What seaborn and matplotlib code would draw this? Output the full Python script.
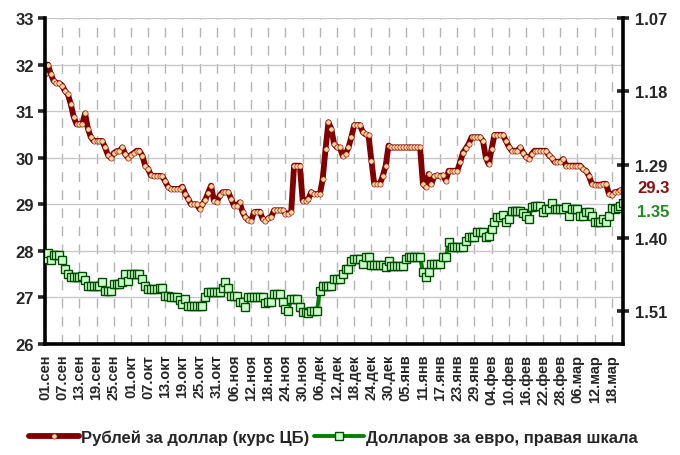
import pandas as pd
import matplotlib.pyplot as plt
import seaborn as sns

# Daily values, 01 Sep 2009 .. 22 Mar 2010
rub_per_usd = [
    31.80, 32.00, 31.80, 31.65, 31.60, 31.60, 31.55, 31.43, 31.36, 31.15,
    30.88, 30.72, 30.72, 30.72, 30.95, 30.62, 30.44, 30.36, 30.36, 30.36,
    30.36, 30.22, 30.05, 30.00, 30.10, 30.14, 30.14, 30.22, 30.08, 30.00,
    30.06, 30.10, 30.15, 30.15, 30.04, 29.83, 29.76, 29.62, 29.61, 29.61,
    29.61, 29.60, 29.49, 29.37, 29.33, 29.33, 29.33, 29.33, 29.38, 29.22,
    29.12, 29.00, 29.00, 29.00, 28.90, 29.00, 29.10, 29.25, 29.40, 29.08,
    29.05, 29.19, 29.26, 29.26, 29.26, 29.12, 28.97, 28.97, 29.04, 28.83,
    28.72, 28.66, 28.65, 28.83, 28.84, 28.84, 28.69, 28.65, 28.70, 28.72,
    28.87, 28.87, 28.87, 28.87, 28.80, 28.80, 28.84, 29.83, 29.83, 29.83,
    29.08, 29.08, 29.12, 29.26, 29.22, 29.22, 29.22, 29.54, 30.19, 30.76,
    30.62, 30.29, 30.22, 30.22, 30.04, 30.08, 30.22, 30.44, 30.70, 30.70,
    30.70, 30.55, 30.50, 30.48, 29.94, 29.44, 29.44, 29.44, 29.61, 29.83,
    30.26, 30.22, 30.22, 30.22, 30.22, 30.22, 30.22, 30.22, 30.22, 30.22,
    30.22, 30.22, 29.44, 29.37, 29.65, 29.44, 29.60, 29.62, 29.60, 29.62,
    29.51, 29.72, 29.72, 29.72, 29.72, 29.90, 30.11, 30.20, 30.30, 30.44,
    30.44, 30.44, 30.44, 30.36, 30.00, 29.86, 30.19, 30.49, 30.49, 30.49,
    30.49, 30.36, 30.24, 30.15, 30.15, 30.15, 30.22, 30.11, 30.02, 29.97,
    30.08, 30.15, 30.15, 30.15, 30.15, 30.15, 30.05, 30.00, 29.91, 29.91,
    29.91, 29.97, 29.83, 29.83, 29.83, 29.83, 29.83, 29.83, 29.75, 29.72,
    29.61, 29.44, 29.42, 29.42, 29.42, 29.44, 29.44, 29.22, 29.19, 29.26,
    29.27, 29.30, 29.31,
]

usd_per_eur = [
    1.4315, 1.4225, 1.4325, 1.4255, 1.4255, 1.4255, 1.4325, 1.4465, 1.4540, 1.4590,
    1.4590, 1.4590, 1.4590, 1.4570, 1.4625, 1.4715, 1.4715, 1.4715, 1.4715, 1.4715,
    1.4665, 1.4790, 1.4790, 1.4790, 1.4690, 1.4690, 1.4690, 1.4665, 1.4540, 1.4640,
    1.4540, 1.4540, 1.4540, 1.4540, 1.4610, 1.4715, 1.4765, 1.4765, 1.4765, 1.4765,
    1.4755, 1.4755, 1.4865, 1.4865, 1.4890, 1.4890, 1.4890, 1.4925, 1.4990, 1.4915,
    1.5015, 1.5015, 1.5015, 1.5015, 1.5015, 1.5015, 1.4890, 1.4810, 1.4810, 1.4810,
    1.4810, 1.4810, 1.4755, 1.4655, 1.4755, 1.4865, 1.4865, 1.4865, 1.4965, 1.4965,
    1.5040, 1.4890, 1.4890, 1.4890, 1.4890, 1.4890, 1.4890, 1.4970, 1.4965, 1.4965,
    1.4840, 1.4840, 1.4840, 1.4965, 1.5065, 1.5090, 1.4915, 1.4915, 1.4915, 1.5040,
    1.5105, 1.5105, 1.5120, 1.5090, 1.5090, 1.5090, 1.4790, 1.4725, 1.4715, 1.4715,
    1.4715, 1.4615, 1.4615, 1.4615, 1.4540, 1.4465, 1.4465, 1.4340, 1.4315, 1.4315,
    1.4315, 1.4390, 1.4290, 1.4290, 1.4405, 1.4405, 1.4405, 1.4405, 1.4405, 1.4440,
    1.4340, 1.4415, 1.4415, 1.4415, 1.4415, 1.4415, 1.4315, 1.4290, 1.4290, 1.4290,
    1.4290, 1.4290, 1.4515, 1.4590, 1.4515, 1.4390, 1.4390, 1.4390, 1.4390, 1.4290,
    1.4290, 1.4065, 1.4140, 1.4140, 1.4140, 1.4140, 1.4140, 1.4040, 1.3990, 1.3990,
    1.3990, 1.3915, 1.3915, 1.3915, 1.3990, 1.3970, 1.3865, 1.3765, 1.3690, 1.3690,
    1.3660, 1.3755, 1.3710, 1.3590, 1.3590, 1.3590, 1.3590, 1.3620, 1.3670, 1.3715,
    1.3540, 1.3515, 1.3515, 1.3515, 1.3615, 1.3565, 1.3565, 1.3475, 1.3565, 1.3565,
    1.3565, 1.3565, 1.3540, 1.3670, 1.3565, 1.3565, 1.3565, 1.3665, 1.3665, 1.3605,
    1.3615, 1.3665, 1.3755, 1.3755, 1.3755, 1.3715, 1.3755, 1.3665, 1.3555, 1.3560,
    1.3550, 1.3520, 1.3475,
]

date_labels = [
    "01.сен", "07.сен", "13.сен", "19.сен", "25.сен", "01.окт", "07.окт",
    "13.окт", "19.окт", "25.окт", "31.окт", "06.ноя", "12.ноя", "18.ноя",
    "24.ноя", "30.ноя", "06.дек", "12.дек", "18.дек", "24.дек", "30.дек",
    "05.янв", "11.янв", "17.янв", "23.янв", "29.янв", "04.фев", "10.фев",
    "16.фев", "22.фев", "28.фев", "06.мар", "12.мар", "18.мар",
]
left_ticks = [26, 27, 28, 29, 30, 31, 32, 33]
right_ticks = [1.07, 1.18, 1.29, 1.40, 1.51]
series_names = ["Рублей за доллар (курс ЦБ)", "Долларов за евро, правая шкала"]

dates = pd.date_range("2009-09-01", periods=len(rub_per_usd), freq="D")
df = pd.DataFrame({"date": dates, "rub": rub_per_usd, "usd": usd_per_eur})

sns.set_style("white")
plt.rcParams["font.family"] = ["Liberation Sans", "DejaVu Sans"]
plt.rcParams["font.weight"] = "bold"

fig, ax = plt.subplots(figsize=(6.8, 4.56), dpi=100)
fig.subplots_adjust(left=0.0662, right=0.9166, bottom=0.2434, top=0.9583)
ax2 = ax.twinx()

red = "#800000"
green = "#008000"

sns.lineplot(data=df, x="date", y="rub", ax=ax, color=red, linewidth=4.2,
             marker="o", markersize=3.8, markerfacecolor="#FFD39B",
             markeredgecolor=red, markeredgewidth=0.4)
sns.lineplot(data=df, x="date", y="usd", ax=ax2, color=green, linewidth=2.8,
             marker="s", markersize=5.8, markerfacecolor="#CCFFCC",
             markeredgecolor="#004d00", markeredgewidth=1.0)

# axes ranges
ax.set_ylim(26, 33)
ax.set_yticks(left_ticks)
ax2.set_ylim(1.559, 1.07)
ax2.set_yticks(right_ticks)
ax2.set_yticklabels([f"{v:.2f}" for v in right_ticks])
ax.set_xlim(dates[0], dates[-1])
tick_dates = dates[::6][:len(date_labels)]
ax.set_xticks(tick_dates)
ax.set_xticklabels(date_labels, rotation=90)
ax.set_xlabel("")
ax.set_ylabel("")
ax2.set_ylabel("")

# grid
ax.grid(axis="y", color="#C8C8C8", linewidth=1, linestyle="-")
ax.grid(axis="x", color="#B4B4B4", linewidth=1, linestyle=(0, (7, 6)))
ax.set_axisbelow(True)

# spines and ticks
for a in (ax, ax2):
    a.spines["top"].set_visible(False)
ax.spines["right"].set_visible(False)
ax2.spines["left"].set_visible(False)
ax2.spines["bottom"].set_visible(False)
ax.spines["left"].set_linewidth(2.6)
ax.spines["bottom"].set_linewidth(2.6)
ax2.spines["right"].set_linewidth(2.6)
for s in ("left", "bottom"):
    ax.spines[s].set_color("black")
ax2.spines["right"].set_color("black")

ax.tick_params(axis="y", direction="out", length=5, width=2.6, labelsize=12, pad=3)
ax.tick_params(axis="x", direction="out", length=5, width=2.6, labelsize=10.5, pad=2)
ax2.tick_params(axis="y", direction="inout", length=9, width=2.6, labelsize=12, pad=4)
for lab in ax.get_xticklabels() + ax.get_yticklabels() + ax2.get_yticklabels():
    lab.set_fontweight("bold")

# end-of-series labels
ax.annotate(f"{rub_per_usd[-1]:.1f}", xy=(dates[-1], rub_per_usd[-1]),
            xytext=(10, 1.5), textcoords="offset points", va="center", ha="left",
            color="#8B1010", fontsize=12, fontweight="bold", annotation_clip=False)
ax2.annotate(f"{usd_per_eur[-1]:.2f}", xy=(dates[-1], usd_per_eur[-1]),
             xytext=(10, -6), textcoords="offset points", va="center", ha="left",
             color="#1E8C1E", fontsize=12, fontweight="bold", annotation_clip=False)

# legend below the chart
for a in (ax, ax2):
    if a.get_legend() is not None:
        a.get_legend().remove()
handles = [ax.get_lines()[0], ax2.get_lines()[0]]
fig.legend(handles, series_names, loc="lower center", bbox_to_anchor=(0.49, -0.01),
           ncol=2, frameon=False, numpoints=1, handlelength=3.0, handletextpad=0.1,
           columnspacing=0.3, prop={"size": 12, "weight": "bold"})

fig.savefig("out.png", dpi=100)
